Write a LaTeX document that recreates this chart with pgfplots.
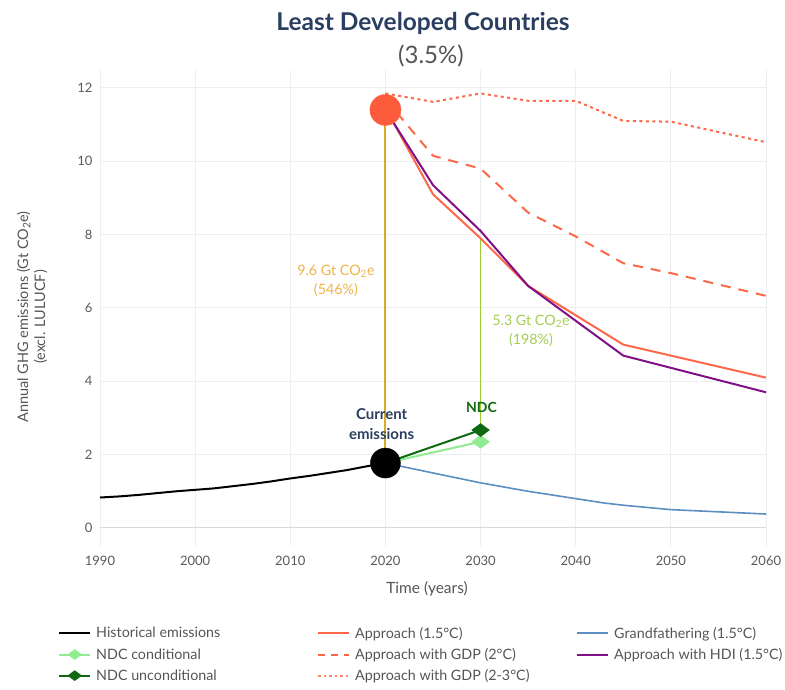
\documentclass[border=0pt]{standalone}
\usepackage{fontspec}
\setmainfont{Lato}
\usepackage{pgfplots}
\pgfplotsset{compat=1.18}
\definecolor{titlecol}{RGB}{42,63,95}
\definecolor{txtgray}{RGB}{85,85,85}
\definecolor{tickgray}{RGB}{90,90,90}
\definecolor{gridcol}{RGB}{236,238,242}
\definecolor{apcol}{RGB}{252,104,72}
\definecolor{circcol}{RGB}{252,92,60}
\definecolor{gfcol}{RGB}{92,142,192}
\definecolor{hdicol}{RGB}{128,16,136}
\definecolor{ndcc}{RGB}{144,236,144}
\definecolor{ndcu}{RGB}{16,104,16}
\definecolor{goldline}{RGB}{220,170,40}
\definecolor{goldtxt}{RGB}{240,180,70}
\definecolor{ygline}{RGB}{154,205,50}
\definecolor{ygtxt}{RGB}{165,205,85}
\begin{document}
\begin{tikzpicture}[x=1pt,y=1pt]
\path[use as bounding box] (0,0) rectangle (785,690);
\begin{axis}[
  at={(100pt,143.7pt)}, anchor=south west,
  scale only axis, width=666pt, height=476.7pt,
  xmin=1990, xmax=2060, ymin=-0.5, ymax=12.5,
  axis line style={draw=none},
  major tick length=0pt,
  xtick={1990,2000,...,2060}, ytick={0,2,...,12},
  grid=major, major grid style={gridcol, line width=1pt},
  /pgf/number format/assume math mode=true,
  /pgf/number format/1000 sep={},
  ticklabel style={font=\fontsize{13}{15}\selectfont, text=tickgray},
  xticklabel style={yshift=-6pt},
  yticklabel style={xshift=-4pt},
  clip=false,
  legend columns=3,
  legend cell align=left,
  legend style={at={(-0.063,-0.165)}, anchor=north west, draw=none, fill=none,
    font=\fontsize{14.3}{17}\selectfont, text=txtgray, row sep=4.5pt,
    inner sep=0pt,
    /tikz/every odd column/.append style={column sep=3pt}},
  legend image code/.code={\draw[mark repeat=2,mark phase=2,#1] plot coordinates {(0pt,0pt) (15.5pt,0pt) (31pt,0pt)};},
]
% zero line
\addplot[forget plot, gray!30, line width=1pt] coordinates {(1990,0)(2060,0)};
% vertical gap lines
\addplot[forget plot, goldline, line width=2pt] coordinates {(2020,1.77)(2020,11.4)};
\addplot[forget plot, ygline, line width=1.6pt] coordinates {(2030,2.67)(2030,7.9)};
% GDP 2-3C dotted
\addplot[forget plot, apcol, line width=2pt, dash pattern=on 3pt off 3.5pt] coordinates {
(2020,11.85)(2025,11.62)(2030,11.85)(2035,11.65)(2040,11.65)(2045,11.1)(2050,11.08)(2060,10.52)};
% GDP 2C dashed
\addplot[forget plot, apcol, line width=2pt, dash pattern=on 10pt off 8pt] coordinates {
(2020,11.7)(2025,10.15)(2030,9.8)(2035,8.6)(2040,7.95)(2045,7.22)(2050,6.95)(2060,6.33)};
% Approach 1.5
\addplot[forget plot, apcol, line width=2pt] coordinates {
(2020,11.45)(2025,9.1)(2030,7.9)(2035,6.6)(2045,5.0)(2060,4.1)};
% HDI
\addplot[forget plot, hdicol, line width=2pt] coordinates {
(2020,11.4)(2025,9.35)(2030,8.1)(2035,6.6)(2045,4.7)(2060,3.7)};
% Grandfathering
\addplot[forget plot, gfcol, line width=1.6pt] coordinates {
(2020,1.77)(2025,1.5)(2030,1.23)(2035,1.0)(2040,0.8)(2043,0.68)(2045,0.62)(2050,0.5)(2055,0.44)(2060,0.38)};
% Historical
\addplot[forget plot, black, line width=2pt] coordinates {
(1990,0.83)(1992,0.86)(1994,0.9)(1996,0.95)(1998,1.0)(2000,1.04)(2002,1.08)(2004,1.14)(2006,1.2)(2008,1.27)(2010,1.35)(2012,1.42)(2014,1.5)(2016,1.58)(2018,1.68)(2020,1.77)};
% NDC conditional
\addplot[forget plot, ndcc, line width=2pt, mark=diamond*, mark indices={2}, mark size=7.5pt, mark options={solid, xscale=1.35, yscale=0.75}] coordinates {(2020,1.77)(2030,2.35)};
% NDC unconditional
\addplot[forget plot, ndcu, line width=2pt, mark=diamond*, mark indices={2}, mark size=7.5pt, mark options={solid, xscale=1.35, yscale=0.75}] coordinates {(2020,1.77)(2030,2.67)};
% circles
\addplot[forget plot, only marks, mark=*, mark size=15.5pt, circcol, mark options={draw=circcol, fill=circcol}] coordinates {(2020,11.4)};
\addplot[forget plot, only marks, mark=*, mark size=15pt, black] coordinates {(2020,1.77)};
% annotations
\node[goldtxt, align=center, font=\fontsize{14.3}{19.5}\selectfont] at (axis cs:2014.8,6.74) {9.6 Gt CO\textsubscript{2}e\\(546\%)};
\node[ygtxt, align=center, font=\fontsize{14.3}{19.5}\selectfont] at (axis cs:2035.3,5.38) {5.3 Gt CO\textsubscript{2}e\\(198\%)};
\node[titlecol, align=center, font=\bfseries\fontsize{15}{19.5}\selectfont] at (axis cs:2019.6,2.83) {Current\\emissions};
\node[ndcu, font=\bfseries\fontsize{14}{16}\selectfont] at (axis cs:2030.1,3.28) {NDC};
% legend
\addlegendimage{black, line width=2pt}\addlegendentry{\makebox[219pt][l]{Historical emissions}}
\addlegendimage{apcol, line width=2pt}\addlegendentry{\makebox[219pt][l]{Approach (1.5°C)}}
\addlegendimage{gfcol, line width=2pt}\addlegendentry{Grandfathering (1.5°C)}
\addlegendimage{ndcc, line width=2pt, mark=diamond*, mark size=5.5pt, mark options={xscale=1.35,yscale=0.75}}\addlegendentry{NDC conditional}
\addlegendimage{apcol, line width=2pt, dash pattern=on 7pt off 6pt}\addlegendentry{Approach with GDP (2°C)}
\addlegendimage{hdicol, line width=2pt}\addlegendentry{Approach with HDI (1.5°C)}
\addlegendimage{ndcu, line width=2pt, mark=diamond*, mark size=5.5pt, mark options={xscale=1.35,yscale=0.75}}\addlegendentry{NDC unconditional}
\addlegendimage{apcol!80, line width=2pt, dash pattern=on 2.5pt off 3pt}\addlegendentry{Approach with GDP (2-3°C)}
\end{axis}
% titles and axis labels
\node[titlecol, font=\bfseries\fontsize{24.5}{28}\selectfont] at (423,667) {Least Developed Countries};
\node[txtgray, font=\fontsize{24}{28}\selectfont] at (431,634) {(3.5\%)};
\node[txtgray, font=\fontsize{15.5}{18}\selectfont] at (427,101) {Time (years)};
\node[txtgray, rotate=90, align=center, font=\fontsize{14.5}{17}\selectfont] at (32,373) {Annual GHG emissions (Gt CO\textsubscript{2}e)\\(excl. LULUCF)};
\end{tikzpicture}
\end{document}
